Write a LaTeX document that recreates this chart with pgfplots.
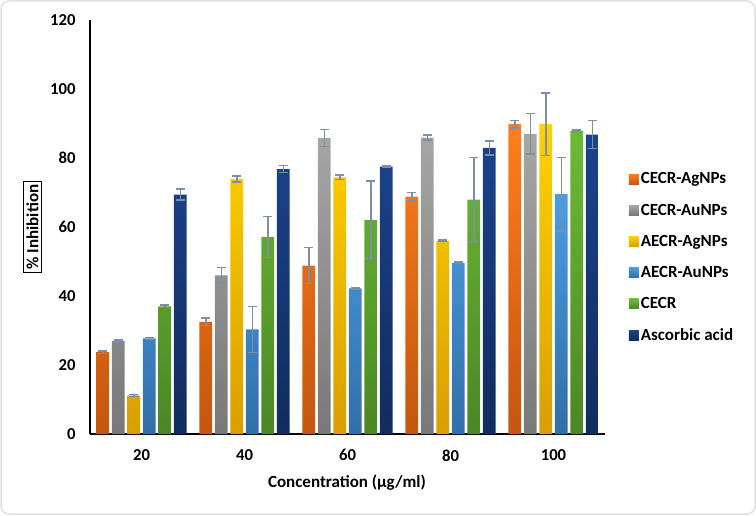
\documentclass[border=0pt]{standalone}
\usepackage{pgfplots}
\pgfplotsset{compat=1.18}
\usepackage{fontspec}
\setmainfont{Carlito}
\definecolor{orT}{HTML}{FF7E1C}\definecolor{orB}{HTML}{C4560F}
\definecolor{grT}{HTML}{A6A6A6}\definecolor{grB}{HTML}{787878}
\definecolor{yeT}{HTML}{FFD200}\definecolor{yeB}{HTML}{D99E00}
\definecolor{blT}{HTML}{4A9DE3}\definecolor{blB}{HTML}{316FA8}
\definecolor{gnT}{HTML}{6CBB34}\definecolor{gnB}{HTML}{4C8626}
\definecolor{nvT}{HTML}{1B438C}\definecolor{nvB}{HTML}{112C5E}
\definecolor{errc}{HTML}{7C8EA8}
\begin{document}
\begin{tikzpicture}
\useasboundingbox (0pt,0pt) rectangle (756pt,515pt);
\draw[rounded corners=8pt, draw=black!12, line width=1.5pt] (1pt,1pt) rectangle (755pt,514pt);
\begin{axis}[
  at={(90pt,81pt)}, anchor=south west,
  scale only axis, width=515pt, height=414pt,
  xmin=-0.5, xmax=4.5, ymin=0, ymax=120,
  enlargelimits=false, clip=false,
  axis lines*=left,
  axis line style={black, line width=1.3pt},
  major tick length=0pt,
  xtick={0,1,2,3,4}, xticklabels={20,40,60,80,100},
  ytick={0,20,...,120},
  /pgf/number format/assume math mode=true,
  tick label style={font=\bfseries\fontsize{16.7}{20}\selectfont},
  yticklabel style={xshift=-11pt},
  xticklabel style={yshift=-12pt},
  ybar=2.7pt, bar width=12.8pt,
  error bars/y dir=both, error bars/y explicit,
  error bars/error bar style={errc, line width=1.5pt},
  error bars/error mark options={errc, rotate=90, mark size=4.5pt, line width=1.5pt},
  legend style={at={(1.04,0.641)}, anchor=north west, draw=none, fill=none,
    font=\bfseries\fontsize{17}{20}\selectfont, row sep=14.5pt},
  legend cell align=left,
  legend image code/.code={\path[#1, draw=none] (0pt,-5pt) rectangle (10pt,5pt);},
]
\addplot[draw=none, top color=orT, bottom color=orB] table[x=x, y=y, y error=e] {
x y e
0 23.7 0.3
1 32.5 1.1
2 48.8 5.2
3 68.8 1.2
4 89.8 1.1
};
\addlegendentry{CECR-AgNPs}
\addplot[draw=none, top color=grT, bottom color=grB] table[x=x, y=y, y error=e] {
x y e
0 27.0 0.3
1 46.0 2.3
2 85.8 2.4
3 85.9 0.7
4 87.0 5.9
};
\addlegendentry{CECR-AuNPs}
\addplot[draw=none, top color=yeT, bottom color=yeB] table[x=x, y=y, y error=e] {
x y e
0 11.2 0.3
1 73.9 0.9
2 74.4 0.6
3 56.0 0.2
4 89.8 9.1
};
\addlegendentry{AECR-AgNPs}
\addplot[draw=none, top color=blT, bottom color=blB] table[x=x, y=y, y error=e] {
x y e
0 27.7 0.3
1 30.3 6.7
2 42.2 0.2
3 49.6 0.2
4 69.5 10.6
};
\addlegendentry{AECR-AuNPs}
\addplot[draw=none, top color=gnT, bottom color=gnB] table[x=x, y=y, y error=e] {
x y e
0 37.0 0.4
1 57.1 5.9
2 62.1 11.2
3 67.9 12.3
4 87.9 0.2
};
\addlegendentry{CECR}
\addplot[draw=none, top color=nvT, bottom color=nvB] table[x=x, y=y, y error=e] {
x y e
0 69.4 1.6
1 76.8 1.0
2 77.5 0.2
3 82.9 2.0
4 86.8 4.1
};
\addlegendentry{Ascorbic acid}
\end{axis}
\node[draw=black, line width=0.9pt, rotate=90, inner sep=3pt,
  font=\bfseries\fontsize{17}{20}\selectfont] at (32.5pt,288pt) {\% Inhibition};
\node[anchor=base, font=\bfseries\fontsize{17}{20}\selectfont] at (347pt,27.7pt) {Concentration (µg/ml)};
\end{tikzpicture}
\end{document}
